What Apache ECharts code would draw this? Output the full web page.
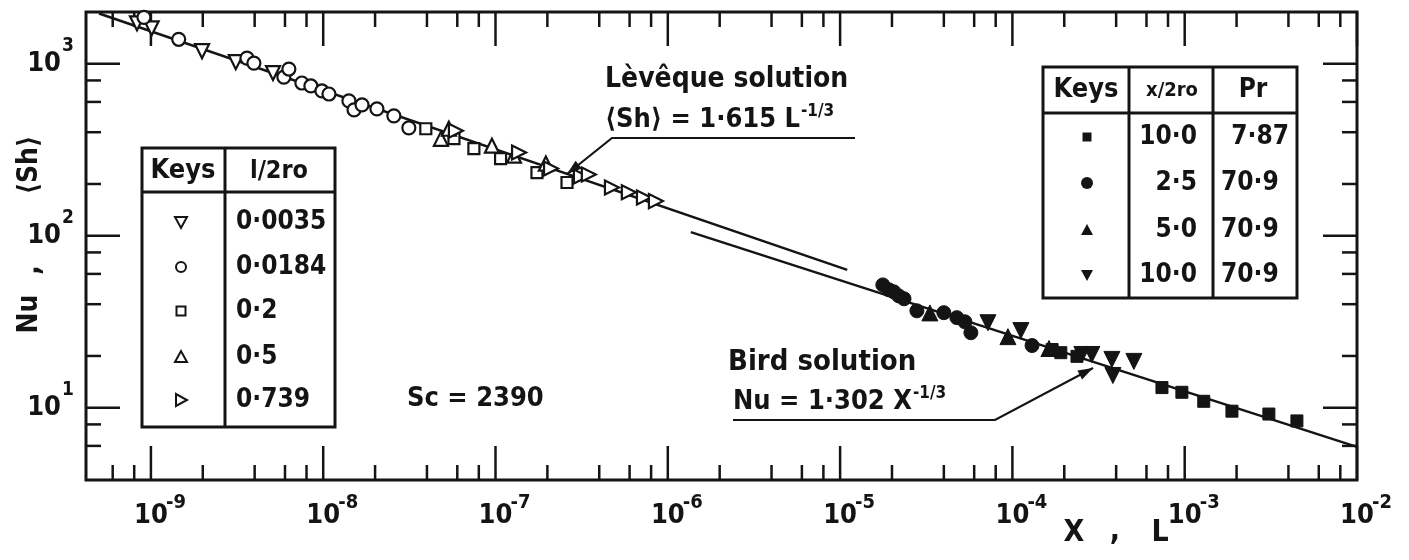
<!DOCTYPE html>
<html>
<head>
<meta charset="utf-8">
<script src="https://cdn.jsdelivr.net/npm/echarts@6/dist/echarts.min.js"></script>
<style>html,body{margin:0;padding:0;background:#fff}#c{width:1409px;height:560px}</style>
</head>
<body>
<div id="c"></div>
<script>
// ---------------- data ----------------
const xMajorTicks = [1e-9, 1e-8, 1e-7, 1e-6, 1e-5, 1e-4, 1e-3, 1e-2];
const xTickExps   = ['-9', '-8', '-7', '-6', '-5', '-4', '-3', '-2'];
const xMinorTicks = [6e-10, 8e-10,
  2e-9, 4e-9, 6e-9, 8e-9, 2e-8, 4e-8, 6e-8, 8e-8, 2e-7, 4e-7, 6e-7, 8e-7,
  2e-6, 4e-6, 6e-6, 8e-6, 2e-5, 4e-5, 6e-5, 8e-5, 2e-4, 4e-4, 6e-4, 8e-4,
  2e-3, 4e-3, 6e-3, 8e-3];
const yMajorTicks = [10, 100, 1000];
const yTickExps   = ['1', '2', '3'];
const yMinorTicks = [6, 8, 20, 40, 60, 80, 200, 400, 600, 800];

// theoretical lines (end points)
const levequeLine = [[5.0e-10, 1960], [1.10e-5, 63.3]];
const birdLine    = [[1.36e-6, 105], [1.0e-2, 5.92]];

// open keys, l/2ro (Sh vs L)
const keyL0035 = [[8.30e-10, 1718], [1.01e-9, 1607], [1.98e-9, 1183], [3.11e-9, 1022], [5.11e-9, 883]];
const keyL0184 = [[9.11e-10, 1862], [1.45e-9, 1388], [3.61e-9, 1079], [3.96e-9, 1009], [5.91e-9, 837],
  [6.32e-9, 932], [7.52e-9, 773], [8.48e-9, 743], [9.83e-9, 695], [1.08e-8, 667], [1.41e-8, 608],
  [1.51e-8, 539], [1.68e-8, 577], [2.05e-8, 547], [2.57e-8, 498], [3.14e-8, 424]];
const keyL02   = [[3.94e-8, 419], [5.74e-8, 367], [7.49e-8, 321], [1.07e-7, 281], [1.74e-7, 233], [2.60e-7, 204]];
const keyL05   = [[4.82e-8, 366], [5.36e-8, 419], [9.53e-8, 334], [1.28e-7, 292], [1.96e-7, 263]];
const keyL0739 = [[5.89e-8, 408], [1.37e-7, 305], [2.10e-7, 246], [3.13e-7, 221], [3.48e-7, 227],
  [4.74e-7, 191], [5.94e-7, 179], [7.27e-7, 167], [8.53e-7, 159]];

// filled keys, x/2ro and Pr (Nu vs X)
const keyX10Pr787 = [[1.70e-4, 21.8], [1.91e-4, 20.9], [2.37e-4, 19.9], [7.38e-4, 13.1], [9.63e-4, 12.3],
  [1.29e-3, 10.9], [1.88e-3, 9.55], [3.08e-3, 9.19], [4.48e-3, 8.38]];
const keyX25Pr709 = [[1.77e-5, 51.8], [1.92e-5, 48.5], [2.05e-5, 47.2], [2.19e-5, 44.7], [2.35e-5, 43.0],
  [2.79e-5, 36.6], [4.00e-5, 35.7], [4.76e-5, 33.4], [5.30e-5, 31.6], [5.74e-5, 27.3], [1.30e-4, 23.0]];
const keyX50Pr709 = [[3.32e-5, 35.6], [9.42e-5, 25.9], [1.63e-4, 22.1]];
const keyX10Pr709 = [[7.21e-5, 31.2], [1.12e-4, 28.1], [2.53e-4, 20.4], [2.89e-4, 20.4], [3.78e-4, 19.1],
  [3.83e-4, 15.4], [5.07e-4, 18.6]];

const leftKeyValues  = ['0·0035', '0·0184', '0·2', '0·5', '0·739'];
const rightKeyX      = ['10·0', '2·5', '5·0', '10·0'];
const rightKeyPr     = ['7·87', '70·9', '70·9', '70·9'];

// ---------------- chart ----------------
const X_MIN = 4.2e-10, X_MAX = 1e-2, Y_MIN = 3.8, Y_MAX = 2000;
const INK = '#141414';
const FONT = '"DejaVu Sans Condensed","Liberation Sans Narrow","DejaVu Sans",sans-serif';
const MAJ = 34, MIN = 15, TW = 2.5;

const chart = echarts.init(document.getElementById('c'), null, {renderer: 'canvas'});

function openSeries(data, symbol, rot, size) {
  return {type: 'scatter', data, symbol, symbolRotate: rot, symbolSize: size, z: 5, silent: true,
    itemStyle: {color: '#fff', borderColor: INK, borderWidth: 2.2, opacity: 1}};
}
function fillSeries(data, symbol, rot, size) {
  return {type: 'scatter', data, symbol, symbolRotate: rot, symbolSize: size, z: 5, silent: true,
    itemStyle: {color: INK, borderColor: INK, borderWidth: 1, opacity: 1}};
}
function lineSeries(data) {
  return {type: 'line', data, showSymbol: false, z: 3, silent: true,
    lineStyle: {color: INK, width: 2.5, opacity: 1}};
}

const xTickData = xMajorTicks.map(v => [v, Y_MIN, 1]).concat(xMinorTicks.map(v => [v, Y_MIN, 0]));
const yTickData = yMajorTicks.map(v => [X_MIN, v, 1]).concat(yMinorTicks.map(v => [X_MIN, v, 0]));

const series = [
  lineSeries(levequeLine),
  lineSeries(birdLine),
  openSeries(keyL0035, 'triangle', 180, 14),
  openSeries(keyL0184, 'circle', 0, 13),
  openSeries(keyL02, 'rect', 0, 11),
  openSeries(keyL05, 'triangle', 0, 14),
  openSeries(keyL0739, 'triangle', -90, 14),
  fillSeries(keyX25Pr709, 'circle', 0, 14),
  fillSeries(keyX50Pr709, 'triangle', 0, 16),
  fillSeries(keyX10Pr709, 'triangle', 180, 16),
  fillSeries(keyX10Pr787, 'rect', 0, 12),
  { // x ticks, bottom & top
    type: 'custom', data: xTickData, silent: true, z: 2, clip: false,
    renderItem(p, api) {
      const cs = p.coordSys;
      const px = api.coord([api.value(0), Y_MIN])[0];
      const len = api.value(2) ? MAJ : MIN;
      const st = {stroke: INK, lineWidth: TW};
      return {type: 'group', children: [
        {type: 'line', shape: {x1: px, y1: cs.y + cs.height, x2: px, y2: cs.y + cs.height - len}, style: st},
        {type: 'line', shape: {x1: px, y1: cs.y, x2: px, y2: cs.y + len}, style: st}
      ]};
    }
  },
  { // y ticks, left & right
    type: 'custom', data: yTickData, silent: true, z: 2, clip: false,
    renderItem(p, api) {
      const cs = p.coordSys;
      const py = api.coord([X_MIN, api.value(1)])[1];
      const len = api.value(2) ? MAJ : MIN;
      const st = {stroke: INK, lineWidth: TW};
      return {type: 'group', children: [
        {type: 'line', shape: {x1: cs.x, y1: py, x2: cs.x + len, y2: py}, style: st},
        {type: 'line', shape: {x1: cs.x + cs.width, y1: py, x2: cs.x + cs.width - len, y2: py}, style: st}
      ]};
    }
  },
  { // x tick labels
    type: 'custom', data: xMajorTicks.map((v, i) => [v, Y_MIN, i]), silent: true, z: 2, clip: false,
    renderItem(p, api) {
      const cs = p.coordSys;
      const px = api.coord([api.value(0), Y_MIN])[0];
      const by = cs.y + cs.height + 36;
      return {type: 'group', children: [
        {type: 'text', x: px, y: by, style: {text: '10', fill: INK, fontSize: 27, fontWeight: 'bold', fontFamily: FONT, align: 'center', verticalAlign: 'middle'}},
        {type: 'text', x: px + 15, y: by - 13, style: {text: xTickExps[api.value(2)], fill: INK, fontSize: 20, fontWeight: 'bold', fontFamily: FONT, align: 'left', verticalAlign: 'middle'}}
      ]};
    }
  },
  { // y tick labels
    type: 'custom', data: yMajorTicks.map((v, i) => [X_MIN, v, i]), silent: true, z: 2, clip: false,
    renderItem(p, api) {
      const cs = p.coordSys;
      const py = api.coord([X_MIN, api.value(1)])[1];
      return {type: 'group', children: [
        {type: 'text', x: cs.x - 25, y: py, style: {text: '10', fill: INK, fontSize: 27, fontWeight: 'bold', fontFamily: FONT, align: 'right', verticalAlign: 'middle'}},
        {type: 'text', x: cs.x - 24, y: py - 18, style: {text: yTickExps[api.value(2)], fill: INK, fontSize: 19, fontWeight: 'bold', fontFamily: FONT, align: 'left', verticalAlign: 'middle'}}
      ]};
    }
  }
];

// ---------------- annotations, keys tables ----------------
const G = [];
function txt(x, y, text, o) {
  o = o || {};
  const st = {text, fill: INK, fontSize: o.s || 27, fontFamily: FONT, fontWeight: o.w || 'bold',
    align: o.a || 'left', verticalAlign: 'middle'};
  if (o.rich) st.rich = o.rich;
  G.push({type: 'text', x, y, rotation: o.r || 0, z: 10, style: st});
}
function ln(x1, y1, x2, y2, w) {
  G.push({type: 'line', z: 10, shape: {x1, y1, x2, y2}, style: {stroke: INK, lineWidth: w || 2.5}});
}
function box(x, y, w, h) {
  G.push({type: 'rect', z: 10, shape: {x, y, width: w, height: h}, style: {fill: '#fff', stroke: INK, lineWidth: 3}});
}
function arrow(pts) {
  G.push({type: 'polyline', z: 10, shape: {points: pts}, style: {stroke: INK, lineWidth: 2.2, fill: null}});
  const [x1, y1] = pts[pts.length - 2], [x2, y2] = pts[pts.length - 1];
  const dx = x2 - x1, dy = y2 - y1, L = Math.hypot(dx, dy), ux = dx / L, uy = dy / L;
  const len = 15, hw = 5;
  G.push({type: 'polygon', z: 10, shape: {points: [[x2, y2],
    [x2 - ux * len - uy * hw, y2 - uy * len + ux * hw],
    [x2 - ux * len + uy * hw, y2 - uy * len - ux * hw]]}, style: {fill: INK}});
}
function sym(kind, x, y, filled) {
  const st = filled ? {fill: INK} : {fill: '#fff', stroke: INK, lineWidth: 2};
  let el;
  if (kind === 'circle') el = {type: 'circle', shape: {cx: x, cy: y, r: filled ? 6 : 5}};
  else if (kind === 'rect') el = {type: 'rect', shape: {x: x - 4.5, y: y - 4.5, width: 9, height: 9}};
  else if (kind === 'down') el = {type: 'polygon', shape: {points: [[x - 6, y - 5], [x + 6, y - 5], [x, y + 6]]}};
  else if (kind === 'up') el = {type: 'polygon', shape: {points: [[x - 6, y + 5], [x + 6, y + 5], [x, y - 6]]}};
  else el = {type: 'polygon', shape: {points: [[x - 5, y - 6], [x - 5, y + 6], [x + 6, y]]}};
  el.style = st; el.z = 11;
  G.push(el);
}

// left key table
box(142, 148, 193, 279);
ln(142, 192, 335, 192, 3);
ln(225, 148, 225, 427, 3);
txt(183, 171, 'Keys', {s: 27, a: 'center'});
txt(279, 171, 'l/2ro', {s: 25, a: 'center'});
const leftRowsY = [222, 267, 311, 357, 400];
const leftSyms = ['down', 'circle', 'rect', 'up', 'right'];
leftKeyValues.forEach((t, i) => { sym(leftSyms[i], 181, leftRowsY[i], false); txt(236, leftRowsY[i], t, {s: 26}); });

// right key table
box(1043, 67, 254, 231);
ln(1043, 113, 1297, 113, 3);
ln(1129, 67, 1129, 298, 3);
ln(1213, 67, 1213, 298, 3);
txt(1086, 90, 'Keys', {s: 27, a: 'center'});
txt(1172, 91, 'x/2ro', {s: 20, a: 'center'});
txt(1253, 90, 'Pr', {s: 26, a: 'center'});
const rightRowsY = [137, 183, 230, 275];
const rightSyms = ['rect', 'circle', 'up', 'down'];
rightKeyX.forEach((t, i) => {
  sym(rightSyms[i], 1087, rightRowsY[i], true);
  txt(1197, rightRowsY[i], t, {s: 26, a: 'right'});
  if (i === 0) txt(1289, rightRowsY[i], rightKeyPr[i], {s: 26, a: 'right'});
  else txt(1221, rightRowsY[i], rightKeyPr[i], {s: 26, a: 'left'});
});

// Leveque annotation
const supRich = {
  n: {fontSize: 27, fontWeight: 'bold', fontFamily: FONT, fill: INK, lineHeight: 34},
  s: {fontSize: 17, fontWeight: 'bold', fontFamily: FONT, fill: INK, verticalAlign: 'top', padding: [0, 0, 0, 1]}};
txt(605, 80, 'Lèvêque solution', {s: 28});
txt(605, 120, '{n|⟨Sh⟩ = 1·615 L}{s|-1/3}', {rich: supRich});
arrow([[855, 138], [612, 138], [567, 174]]);

// Bird annotation
txt(728, 362, 'Bird solution', {s: 29});
txt(733, 402, '{n|Nu = 1·302 X}{s|-1/3}', {rich: supRich});
arrow([[733, 420], [995, 420], [1093, 368]]);

// Sc
txt(407, 399, 'Sc = 2390', {s: 27});

// axis titles
txt(1074, 533, 'X', {s: 30, a: 'center'});
txt(1115, 532, ',', {s: 30, a: 'center'});
txt(1160, 533, 'L', {s: 30, a: 'center'});
txt(30, 314, 'Nu', {s: 28, a: 'center', r: Math.PI / 2});
txt(32, 270, ',', {s: 28, a: 'center', r: Math.PI / 2});
txt(30, 165, '⟨Sh⟩', {s: 28, a: 'center', r: Math.PI / 2});

const hidden = {axisLine: {show: false}, axisTick: {show: false}, axisLabel: {show: false}, splitLine: {show: false}};
chart.setOption({
  animation: false,
  backgroundColor: '#fff',
  grid: {left: 86, right: 52, top: 12, bottom: 80, show: true, borderColor: INK, borderWidth: 3,
    backgroundColor: 'transparent', containLabel: false, outerBoundsMode: 'none'},
  xAxis: Object.assign({type: 'log', logBase: 10, min: X_MIN, max: X_MAX}, hidden),
  yAxis: Object.assign({type: 'log', logBase: 10, min: Y_MIN, max: Y_MAX}, hidden),
  series,
  graphic: {elements: G}
});
</script>
</body>
</html>
